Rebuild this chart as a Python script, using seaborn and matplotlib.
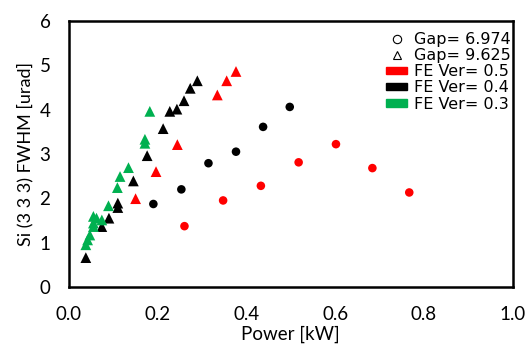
import numpy as np
import pandas as pd
import matplotlib
matplotlib.use("Agg")
import matplotlib.pyplot as plt
import seaborn as sns
from matplotlib.lines import Line2D
from matplotlib.patches import Patch

# Gap = 6.974 (circles)
c05_x = [0.261, 0.348, 0.433, 0.518, 0.602, 0.684, 0.767]
c05_y = [1.37, 1.95, 2.28, 2.81, 3.22, 2.68, 2.13]
c04_x = [0.191, 0.254, 0.315, 0.377, 0.438, 0.498]
c04_y = [1.87, 2.20, 2.79, 3.05, 3.61, 4.06]

# Gap = 9.625 (triangles)
t05_x = [0.151, 0.197, 0.245, 0.335, 0.356, 0.377]
t05_y = [1.99, 2.60, 3.21, 4.33, 4.65, 4.86]
t04_x = [0.039, 0.075, 0.091, 0.111, 0.111, 0.146, 0.177, 0.213, 0.228, 0.244, 0.260, 0.274, 0.290]
t04_y = [0.66, 1.36, 1.55, 1.79, 1.89, 2.39, 2.96, 3.57, 3.96, 4.01, 4.20, 4.48, 4.65]
t03_x = [0.039, 0.043, 0.048, 0.056, 0.056, 0.056, 0.063, 0.075, 0.090, 0.110, 0.116, 0.135, 0.172, 0.172, 0.183]
t03_y = [0.95, 1.06, 1.17, 1.36, 1.44, 1.59, 1.55, 1.51, 1.83, 2.24, 2.49, 2.69, 3.24, 3.33, 3.96]

xticks = [0.0, 0.2, 0.4, 0.6, 0.8, 1.0]
yticks = [0, 1, 2, 3, 4, 5, 6]
gap_labels = ["Gap= 6.974", "Gap= 9.625"]
ver_labels = ["FE Ver= 0.5", "FE Ver= 0.4", "FE Ver= 0.3"]

rows = []
for xs, ys, g, v in [(c05_x, c05_y, gap_labels[0], ver_labels[0]),
                     (c04_x, c04_y, gap_labels[0], ver_labels[1]),
                     (t05_x, t05_y, gap_labels[1], ver_labels[0]),
                     (t04_x, t04_y, gap_labels[1], ver_labels[1]),
                     (t03_x, t03_y, gap_labels[1], ver_labels[2])]:
    for a, b in zip(xs, ys):
        rows.append({"Power": a, "FWHM": b, "Gap": g, "Ver": v})
df = pd.DataFrame(rows)

sns.set_style("white")
plt.rcParams['font.family'] = ['Lato', 'DejaVu Sans']
plt.rcParams['text.color'] = 'black'
plt.rcParams['axes.labelcolor'] = 'black'

palette = {ver_labels[0]: "#FF0000", ver_labels[1]: "#000000", ver_labels[2]: "#00B050"}
colors = list(palette.values())

fig = plt.figure(figsize=(5.27, 3.49), dpi=100)
ax = fig.add_axes([0.130, 0.178, 0.843, 0.762])

dc = df[df.Gap == gap_labels[0]]
dt = df[df.Gap == gap_labels[1]]
sns.scatterplot(data=dc, x="Power", y="FWHM", hue="Ver", palette=palette, marker="o",
                s=38, linewidth=0, ax=ax, legend=False)
sns.scatterplot(data=dt, x="Power", y="FWHM", hue="Ver", palette=palette, marker="^",
                s=60, linewidth=0, ax=ax, legend=False)

ax.set_xlim(0, 1.0)
ax.set_ylim(0, 6)
ax.set_xticks(xticks)
ax.set_xticklabels([f"{t:.1f}" for t in xticks])
ax.set_yticks(yticks)
ax.set_yticklabels([str(t) for t in yticks])
ax.tick_params(direction="in", length=5, width=1.5, labelsize=13.5, colors="#000000")
ax.tick_params(axis="x", pad=14)
ax.tick_params(axis="y", pad=13)
for sp in ax.spines.values():
    sp.set_visible(True)
    sp.set_linewidth(1.8)
    sp.set_color("black")
ax.set_xlabel("Power [kW]", fontsize=13.5, labelpad=2, color="black")
ax.set_ylabel("Si (3 3 3) FWHM [urad]", fontsize=13, labelpad=4, color="black")

handles = [Line2D([], [], marker="o", linestyle="none", markerfacecolor="white",
                  markeredgecolor="black", markersize=6, markeredgewidth=0.8),
           Line2D([], [], marker="^", linestyle="none", markerfacecolor="white",
                  markeredgecolor="black", markersize=6, markeredgewidth=0.8)]
handles += [Patch(facecolor=c, edgecolor=c) for c in colors]
labels = gap_labels + ver_labels
leg = ax.legend(handles, labels, loc="upper right", frameon=False,
                prop={"family": "DejaVu Sans", "size": 11.5},
                handlelength=1.35, handleheight=0.35, handletextpad=0.4,
                labelspacing=0.08, borderaxespad=0.0, borderpad=0.0,
                bbox_to_anchor=(0.995, 0.96))
for t in leg.get_texts():
    t.set_color("black")

fig.savefig("out.png", dpi=100)
